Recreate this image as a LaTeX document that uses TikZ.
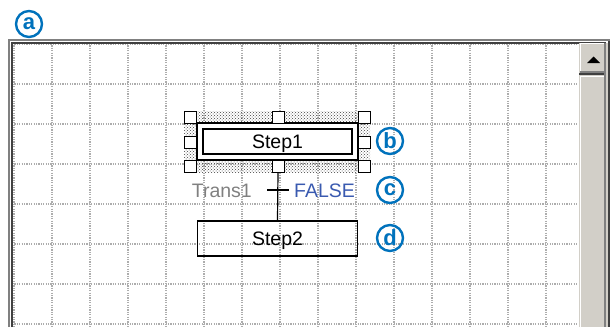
\documentclass[tikz,border=0pt]{standalone}
\usepackage{fontspec}
\setmainfont{Liberation Sans}
\usetikzlibrary{patterns}
\definecolor{calloutblue}{RGB}{0,114,188}
\definecolor{condblue}{RGB}{58,90,176}
\definecolor{winface}{RGB}{210,207,200}
\definecolor{winshadow}{RGB}{128,128,128}
\definecolor{windark}{RGB}{64,64,64}

\begin{document}
\begin{tikzpicture}[x=1pt,y=-1pt,font=\fontsize{19.5}{22}\selectfont,
  gridline/.style={black!32,line width=1.1pt,dash pattern=on 1.1pt off 1.3pt},
  stepbox/.style={draw,line width=1.2pt,inner sep=0pt,text height=14pt,text depth=0pt},
  handle/.style={draw,fill=white,line width=1pt,minimum size=12pt,inner sep=0pt},
  callout/.style={circle,draw=calloutblue,line width=2.4pt,text=calloutblue,
    font=\bfseries\fontsize{22}{22}\selectfont,minimum size=26pt,inner sep=0pt}]
  \useasboundingbox (0,0) rectangle (613,327);
  % editor area with grid
  \fill[white] (12,43) rectangle (579,327);
  \begin{scope}
    \clip (12,43) rectangle (578,327);
    \foreach \gx in {14,52,...,572} \draw[gridline] (\gx,43) -- (\gx,327);
    \foreach \gy in {44,84,...,324} \draw[gridline] (12,\gy) -- (578,\gy);
  \end{scope}
  % window frame
  \draw[winshadow,line width=2pt] (9,327) -- (9,40) -- (610,40);
  \draw[windark,line width=2pt] (11.5,327) -- (11.5,42.5) -- (606,42.5);
  % scrollbar
  \fill[winface] (579,43) rectangle (610,327);
  \draw[windark,line width=2pt] (609,41) -- (609,327);
  \draw[winshadow,line width=2pt] (605,43) -- (605,327);
  \draw[white,line width=1pt] (580.5,72) -- (580.5,43.5) -- (604,43.5);
  \draw[winshadow,line width=1.2pt] (580,72) -- (604,72);
  \draw[windark,line width=1.2pt] (579,74) -- (604,74);
  \fill (587,63) -- (600,63) -- (593.5,56.5) -- cycle;
  \draw[white,line width=1pt] (580.5,327) -- (580.5,76.5) -- (604,76.5);
  % selected step with handles
  \path[pattern=crosshatch dots,pattern color=black!75] (184,111) rectangle (370,172);
  \node[draw,fill=white,line width=1.2pt,minimum width=161pt,minimum height=37pt,
    inner sep=0pt] (sel) at (277.5,141.5) {};
  \node[stepbox,minimum width=149pt,minimum height=25pt] (step1) at (277.5,141.5) {Step1};
  \node[handle] (hnw) at (190.5,117) {};
  \node[handle] (hn) at (278,117) {};
  \node[handle] (hne) at (364,117) {};
  \node[handle] (hw) at (190.5,142) {};
  \node[handle] (he) at (364,142) {};
  \node[handle] (hsw) at (190.5,166) {};
  \node[handle] (hs) at (278,166) {};
  \node[handle] (hse) at (364,166) {};
  % second step and transition
  \node[stepbox,minimum width=160pt,minimum height=35pt] (step2) at (277.5,238.5) {Step2};
  \coordinate (trans) at (278,190);
  \draw[line width=1.2pt] (hs.south) -- (step2.north);
  \draw[line width=1.2pt] ([xshift=-11pt]trans) -- ([xshift=11pt]trans);
  \node[anchor=base east,inner sep=0pt,text=black!50] (transname) at (252,197) {Trans1};
  \node[anchor=base west,inner sep=0pt,text=condblue] (transcond) at (294,197) {FALSE};
  % callouts
  \node[callout] (ca) at (29,24) {a};
  \node[callout] (cb) at (390,141) {b};
  \node[callout] (cc) at (390,190) {c};
  \node[callout] (cd) at (390,238) {d};
\end{tikzpicture}
\end{document}
